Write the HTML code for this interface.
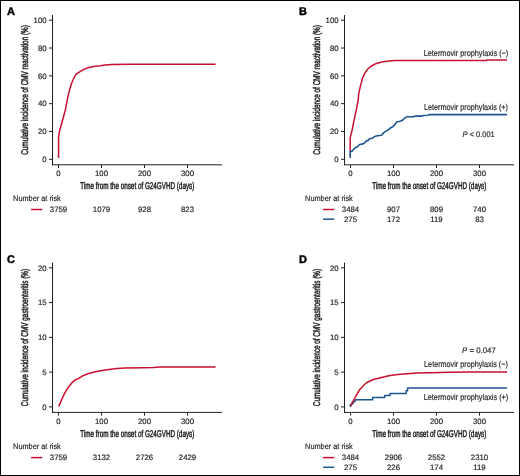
<!DOCTYPE html>
<html><head><meta charset="utf-8"><style>
html,body{margin:0;padding:0;background:#fff;width:520px;height:476px;overflow:hidden}
svg{display:block;will-change:transform}
text{text-rendering:geometricPrecision;font-family:"Liberation Sans",sans-serif;fill:#231f20;stroke:#231f20;stroke-width:0.18px}
.cd{stroke-width:0.5px}
.lt{stroke-width:0.45px;fill:#000;stroke:#000}
</style></head><body>
<svg width="520" height="476" viewBox="0 0 520 476">
<rect x="0.5" y="0.5" width="519" height="475" fill="#fff" stroke="#000" stroke-width="1"/>
<text x="6.90" y="14.95" font-size="11" text-anchor="start" font-weight="bold" class="lt">A</text>
<line x1="52.50" y1="15.00" x2="52.50" y2="165.20" stroke="#231f20" stroke-width="1"/>
<line x1="52.00" y1="164.80" x2="222.00" y2="164.80" stroke="#231f20" stroke-width="1"/>
<line x1="49.00" y1="159.30" x2="52.50" y2="159.30" stroke="#231f20" stroke-width="1"/>
<text x="46.60" y="162.10" font-size="7.8" text-anchor="end" font-weight="normal">0</text>
<line x1="49.00" y1="131.48" x2="52.50" y2="131.48" stroke="#231f20" stroke-width="1"/>
<text x="46.60" y="134.28" font-size="7.8" text-anchor="end" font-weight="normal">20</text>
<line x1="49.00" y1="103.66" x2="52.50" y2="103.66" stroke="#231f20" stroke-width="1"/>
<text x="46.60" y="106.46" font-size="7.8" text-anchor="end" font-weight="normal">40</text>
<line x1="49.00" y1="75.84" x2="52.50" y2="75.84" stroke="#231f20" stroke-width="1"/>
<text x="46.60" y="78.64" font-size="7.8" text-anchor="end" font-weight="normal">60</text>
<line x1="49.00" y1="48.02" x2="52.50" y2="48.02" stroke="#231f20" stroke-width="1"/>
<text x="46.60" y="50.82" font-size="7.8" text-anchor="end" font-weight="normal">80</text>
<line x1="49.00" y1="20.20" x2="52.50" y2="20.20" stroke="#231f20" stroke-width="1"/>
<text x="46.60" y="23.00" font-size="7.8" text-anchor="end" font-weight="normal">100</text>
<line x1="58.50" y1="165.00" x2="58.50" y2="168.00" stroke="#231f20" stroke-width="1"/>
<text x="58.50" y="176.40" font-size="7.8" text-anchor="middle" font-weight="normal">0</text>
<line x1="101.50" y1="165.00" x2="101.50" y2="168.00" stroke="#231f20" stroke-width="1"/>
<text x="101.50" y="176.40" font-size="7.8" text-anchor="middle" font-weight="normal">100</text>
<line x1="144.50" y1="165.00" x2="144.50" y2="168.00" stroke="#231f20" stroke-width="1"/>
<text x="144.50" y="176.40" font-size="7.8" text-anchor="middle" font-weight="normal">200</text>
<line x1="187.50" y1="165.00" x2="187.50" y2="168.00" stroke="#231f20" stroke-width="1"/>
<text x="187.50" y="176.40" font-size="7.8" text-anchor="middle" font-weight="normal">300</text>
<text transform="translate(28.00,89.95) rotate(-90)" x="0" y="0" font-size="9.8" class="cd" text-anchor="middle" textLength="129.7" lengthAdjust="spacingAndGlyphs">Cumulative incidence of CMV reactivation (%)</text>
<text x="137.30" y="188.75" font-size="9.8" text-anchor="middle" font-weight="normal" textLength="114" lengthAdjust="spacingAndGlyphs" class="cd">Time from the onset of G24GVHD (days)</text>
<text x="13.10" y="200.70" font-size="8" text-anchor="start" font-weight="normal" textLength="47.7" lengthAdjust="spacingAndGlyphs">Number at risk</text>
<line x1="31.10" y1="209.50" x2="42.30" y2="209.50" stroke="#c8102e" stroke-width="1.5"/>
<text x="58.50" y="212.30" font-size="7.8" text-anchor="middle" font-weight="normal">3759</text>
<text x="101.50" y="212.30" font-size="7.8" text-anchor="middle" font-weight="normal">1079</text>
<text x="144.50" y="212.30" font-size="7.8" text-anchor="middle" font-weight="normal">928</text>
<text x="187.50" y="212.30" font-size="7.8" text-anchor="middle" font-weight="normal">823</text>
<text x="298.90" y="14.50" font-size="11" text-anchor="start" font-weight="bold" class="lt">B</text>
<line x1="344.50" y1="15.00" x2="344.50" y2="165.20" stroke="#231f20" stroke-width="1"/>
<line x1="344.00" y1="164.80" x2="514.00" y2="164.80" stroke="#231f20" stroke-width="1"/>
<line x1="341.00" y1="159.30" x2="344.50" y2="159.30" stroke="#231f20" stroke-width="1"/>
<text x="338.60" y="162.10" font-size="7.8" text-anchor="end" font-weight="normal">0</text>
<line x1="341.00" y1="131.48" x2="344.50" y2="131.48" stroke="#231f20" stroke-width="1"/>
<text x="338.60" y="134.28" font-size="7.8" text-anchor="end" font-weight="normal">20</text>
<line x1="341.00" y1="103.66" x2="344.50" y2="103.66" stroke="#231f20" stroke-width="1"/>
<text x="338.60" y="106.46" font-size="7.8" text-anchor="end" font-weight="normal">40</text>
<line x1="341.00" y1="75.84" x2="344.50" y2="75.84" stroke="#231f20" stroke-width="1"/>
<text x="338.60" y="78.64" font-size="7.8" text-anchor="end" font-weight="normal">60</text>
<line x1="341.00" y1="48.02" x2="344.50" y2="48.02" stroke="#231f20" stroke-width="1"/>
<text x="338.60" y="50.82" font-size="7.8" text-anchor="end" font-weight="normal">80</text>
<line x1="341.00" y1="20.20" x2="344.50" y2="20.20" stroke="#231f20" stroke-width="1"/>
<text x="338.60" y="23.00" font-size="7.8" text-anchor="end" font-weight="normal">100</text>
<line x1="350.50" y1="165.00" x2="350.50" y2="168.00" stroke="#231f20" stroke-width="1"/>
<text x="350.50" y="176.40" font-size="7.8" text-anchor="middle" font-weight="normal">0</text>
<line x1="393.50" y1="165.00" x2="393.50" y2="168.00" stroke="#231f20" stroke-width="1"/>
<text x="393.50" y="176.40" font-size="7.8" text-anchor="middle" font-weight="normal">100</text>
<line x1="436.50" y1="165.00" x2="436.50" y2="168.00" stroke="#231f20" stroke-width="1"/>
<text x="436.50" y="176.40" font-size="7.8" text-anchor="middle" font-weight="normal">200</text>
<line x1="479.50" y1="165.00" x2="479.50" y2="168.00" stroke="#231f20" stroke-width="1"/>
<text x="479.50" y="176.40" font-size="7.8" text-anchor="middle" font-weight="normal">300</text>
<text transform="translate(320.00,89.95) rotate(-90)" x="0" y="0" font-size="9.8" class="cd" text-anchor="middle" textLength="129.7" lengthAdjust="spacingAndGlyphs">Cumulative incidence of CMV reactivation (%)</text>
<text x="429.30" y="188.75" font-size="9.8" text-anchor="middle" font-weight="normal" textLength="114" lengthAdjust="spacingAndGlyphs" class="cd">Time from the onset of G24GVHD (days)</text>
<text x="305.10" y="200.70" font-size="8" text-anchor="start" font-weight="normal" textLength="47.7" lengthAdjust="spacingAndGlyphs">Number at risk</text>
<line x1="323.10" y1="209.50" x2="334.30" y2="209.50" stroke="#c8102e" stroke-width="1.5"/>
<text x="350.50" y="212.30" font-size="7.8" text-anchor="middle" font-weight="normal">3484</text>
<text x="393.50" y="212.30" font-size="7.8" text-anchor="middle" font-weight="normal">907</text>
<text x="436.50" y="212.30" font-size="7.8" text-anchor="middle" font-weight="normal">809</text>
<text x="479.50" y="212.30" font-size="7.8" text-anchor="middle" font-weight="normal">740</text>
<line x1="323.10" y1="219.20" x2="334.30" y2="219.20" stroke="#1d5590" stroke-width="1.5"/>
<text x="350.50" y="222.10" font-size="7.8" text-anchor="middle" font-weight="normal">275</text>
<text x="393.50" y="222.10" font-size="7.8" text-anchor="middle" font-weight="normal">172</text>
<text x="436.50" y="222.10" font-size="7.8" text-anchor="middle" font-weight="normal">119</text>
<text x="479.50" y="222.10" font-size="7.8" text-anchor="middle" font-weight="normal">83</text>
<text x="6.90" y="262.80" font-size="11" text-anchor="start" font-weight="bold" class="lt">C</text>
<line x1="52.50" y1="262.60" x2="52.50" y2="412.80" stroke="#231f20" stroke-width="1"/>
<line x1="52.00" y1="412.40" x2="222.00" y2="412.40" stroke="#231f20" stroke-width="1"/>
<line x1="49.00" y1="406.90" x2="52.50" y2="406.90" stroke="#231f20" stroke-width="1"/>
<text x="46.60" y="409.70" font-size="7.8" text-anchor="end" font-weight="normal">0</text>
<line x1="49.00" y1="372.12" x2="52.50" y2="372.12" stroke="#231f20" stroke-width="1"/>
<text x="46.60" y="374.93" font-size="7.8" text-anchor="end" font-weight="normal">5</text>
<line x1="49.00" y1="337.35" x2="52.50" y2="337.35" stroke="#231f20" stroke-width="1"/>
<text x="46.60" y="340.15" font-size="7.8" text-anchor="end" font-weight="normal">10</text>
<line x1="49.00" y1="302.58" x2="52.50" y2="302.58" stroke="#231f20" stroke-width="1"/>
<text x="46.60" y="305.38" font-size="7.8" text-anchor="end" font-weight="normal">15</text>
<line x1="49.00" y1="267.80" x2="52.50" y2="267.80" stroke="#231f20" stroke-width="1"/>
<text x="46.60" y="270.60" font-size="7.8" text-anchor="end" font-weight="normal">20</text>
<line x1="58.50" y1="412.60" x2="58.50" y2="415.60" stroke="#231f20" stroke-width="1"/>
<text x="58.50" y="424.00" font-size="7.8" text-anchor="middle" font-weight="normal">0</text>
<line x1="101.50" y1="412.60" x2="101.50" y2="415.60" stroke="#231f20" stroke-width="1"/>
<text x="101.50" y="424.00" font-size="7.8" text-anchor="middle" font-weight="normal">100</text>
<line x1="144.50" y1="412.60" x2="144.50" y2="415.60" stroke="#231f20" stroke-width="1"/>
<text x="144.50" y="424.00" font-size="7.8" text-anchor="middle" font-weight="normal">200</text>
<line x1="187.50" y1="412.60" x2="187.50" y2="415.60" stroke="#231f20" stroke-width="1"/>
<text x="187.50" y="424.00" font-size="7.8" text-anchor="middle" font-weight="normal">300</text>
<text transform="translate(28.00,337.55) rotate(-90)" x="0" y="0" font-size="9.8" class="cd" text-anchor="middle" textLength="137.2" lengthAdjust="spacingAndGlyphs">Cumulative incidence of CMV gastroenteritis (%)</text>
<text x="137.30" y="437.35" font-size="9.8" text-anchor="middle" font-weight="normal" textLength="114" lengthAdjust="spacingAndGlyphs" class="cd">Time from the onset of G24GVHD (days)</text>
<text x="13.10" y="448.80" font-size="8" text-anchor="start" font-weight="normal" textLength="47.7" lengthAdjust="spacingAndGlyphs">Number at risk</text>
<line x1="31.10" y1="457.60" x2="42.30" y2="457.60" stroke="#c8102e" stroke-width="1.5"/>
<text x="58.50" y="460.40" font-size="7.8" text-anchor="middle" font-weight="normal">3759</text>
<text x="101.50" y="460.40" font-size="7.8" text-anchor="middle" font-weight="normal">3132</text>
<text x="144.50" y="460.40" font-size="7.8" text-anchor="middle" font-weight="normal">2726</text>
<text x="187.50" y="460.40" font-size="7.8" text-anchor="middle" font-weight="normal">2429</text>
<text x="298.90" y="262.70" font-size="11" text-anchor="start" font-weight="bold" class="lt">D</text>
<line x1="344.50" y1="262.60" x2="344.50" y2="412.80" stroke="#231f20" stroke-width="1"/>
<line x1="344.00" y1="412.40" x2="514.00" y2="412.40" stroke="#231f20" stroke-width="1"/>
<line x1="341.00" y1="406.90" x2="344.50" y2="406.90" stroke="#231f20" stroke-width="1"/>
<text x="338.60" y="409.70" font-size="7.8" text-anchor="end" font-weight="normal">0</text>
<line x1="341.00" y1="372.12" x2="344.50" y2="372.12" stroke="#231f20" stroke-width="1"/>
<text x="338.60" y="374.93" font-size="7.8" text-anchor="end" font-weight="normal">5</text>
<line x1="341.00" y1="337.35" x2="344.50" y2="337.35" stroke="#231f20" stroke-width="1"/>
<text x="338.60" y="340.15" font-size="7.8" text-anchor="end" font-weight="normal">10</text>
<line x1="341.00" y1="302.58" x2="344.50" y2="302.58" stroke="#231f20" stroke-width="1"/>
<text x="338.60" y="305.38" font-size="7.8" text-anchor="end" font-weight="normal">15</text>
<line x1="341.00" y1="267.80" x2="344.50" y2="267.80" stroke="#231f20" stroke-width="1"/>
<text x="338.60" y="270.60" font-size="7.8" text-anchor="end" font-weight="normal">20</text>
<line x1="350.50" y1="412.60" x2="350.50" y2="415.60" stroke="#231f20" stroke-width="1"/>
<text x="350.50" y="424.00" font-size="7.8" text-anchor="middle" font-weight="normal">0</text>
<line x1="393.50" y1="412.60" x2="393.50" y2="415.60" stroke="#231f20" stroke-width="1"/>
<text x="393.50" y="424.00" font-size="7.8" text-anchor="middle" font-weight="normal">100</text>
<line x1="436.50" y1="412.60" x2="436.50" y2="415.60" stroke="#231f20" stroke-width="1"/>
<text x="436.50" y="424.00" font-size="7.8" text-anchor="middle" font-weight="normal">200</text>
<line x1="479.50" y1="412.60" x2="479.50" y2="415.60" stroke="#231f20" stroke-width="1"/>
<text x="479.50" y="424.00" font-size="7.8" text-anchor="middle" font-weight="normal">300</text>
<text transform="translate(320.00,337.55) rotate(-90)" x="0" y="0" font-size="9.8" class="cd" text-anchor="middle" textLength="137.2" lengthAdjust="spacingAndGlyphs">Cumulative incidence of CMV gastroenteritis (%)</text>
<text x="429.30" y="437.35" font-size="9.8" text-anchor="middle" font-weight="normal" textLength="114" lengthAdjust="spacingAndGlyphs" class="cd">Time from the onset of G24GVHD (days)</text>
<text x="305.10" y="448.80" font-size="8" text-anchor="start" font-weight="normal" textLength="47.7" lengthAdjust="spacingAndGlyphs">Number at risk</text>
<line x1="323.10" y1="457.60" x2="334.30" y2="457.60" stroke="#c8102e" stroke-width="1.5"/>
<text x="350.50" y="460.40" font-size="7.8" text-anchor="middle" font-weight="normal">3484</text>
<text x="393.50" y="460.40" font-size="7.8" text-anchor="middle" font-weight="normal">2906</text>
<text x="436.50" y="460.40" font-size="7.8" text-anchor="middle" font-weight="normal">2552</text>
<text x="479.50" y="460.40" font-size="7.8" text-anchor="middle" font-weight="normal">2310</text>
<line x1="323.10" y1="467.30" x2="334.30" y2="467.30" stroke="#1d5590" stroke-width="1.5"/>
<text x="350.50" y="470.20" font-size="7.8" text-anchor="middle" font-weight="normal">275</text>
<text x="393.50" y="470.20" font-size="7.8" text-anchor="middle" font-weight="normal">226</text>
<text x="436.50" y="470.20" font-size="7.8" text-anchor="middle" font-weight="normal">174</text>
<text x="479.50" y="470.20" font-size="7.8" text-anchor="middle" font-weight="normal">119</text>
<polyline points="58.60,158.00 58.60,136.60 59.60,130.90 60.80,126.50 63.30,117.70 65.90,107.60 67.60,97.90 69.70,89.50 71.80,82.70 73.90,78.00 76.00,74.30 79.20,72.20 83.40,69.60 88.60,67.50 94.90,66.20 100.20,65.70 105.00,65.00 112.00,64.40 130.00,64.30 215.60,64.25" fill="none" stroke="#c8102e" stroke-width="1.5" stroke-linejoin="round" stroke-linecap="butt"/>
<polyline points="350.20,151.20 350.20,138.20 350.80,135.00 352.10,130.00 353.80,121.40 356.30,110.10 358.20,100.00 358.70,93.90 360.80,84.40 362.90,77.10 365.00,72.90 367.60,69.20 371.30,66.00 376.50,63.40 381.80,62.10 387.00,61.30 394.40,60.60 407.00,60.50 486.50,60.50 486.60,60.00 507.10,60.00" fill="none" stroke="#c8102e" stroke-width="1.5" stroke-linejoin="round" stroke-linecap="butt"/>
<polyline points="350.20,158.00 350.20,151.40 351.80,151.40 353.70,149.20 355.60,147.60 357.50,146.70 359.30,144.80 360.60,144.20 363.10,143.90 365.00,142.60 366.30,140.70 368.20,140.40 369.70,138.50 371.90,138.50 373.80,137.20 375.10,136.30 377.70,135.80 381.50,135.20 384.60,131.90 387.70,130.40 390.80,127.70 393.10,126.50 396.20,122.70 396.90,121.80 399.20,121.50 402.30,120.40 403.80,118.80 405.50,117.60 406.50,116.80 413.80,116.80 415.00,116.10 421.90,116.10 423.10,115.50 428.10,115.30 429.20,114.60 507.00,114.60" fill="none" stroke="#1d5590" stroke-width="1.6" stroke-linejoin="round" stroke-linecap="butt"/>
<polyline points="58.80,406.40 61.10,401.00 64.40,393.60 68.50,386.90 71.80,382.90 75.20,379.90 79.20,378.20 82.60,375.90 88.60,373.50 95.40,371.70 102.10,370.40 108.80,369.40 116.90,368.40 125.00,368.10 143.50,367.80 153.70,367.60 159.40,366.90 215.60,366.90" fill="none" stroke="#c8102e" stroke-width="1.5" stroke-linejoin="round" stroke-linecap="butt"/>
<polyline points="350.40,406.90 350.40,404.60 352.00,404.60 352.00,403.00 353.40,403.00 353.40,401.50 355.00,401.50 355.00,399.80 372.60,399.80 372.60,397.50 384.70,397.50 384.70,395.50 390.10,395.50 390.10,393.50 406.20,393.50 406.20,390.80 407.60,390.80 407.60,388.10 507.00,388.10" fill="none" stroke="#1d5590" stroke-width="1.5" stroke-linejoin="round" stroke-linecap="butt"/>
<polyline points="350.60,406.20 355.10,397.50 359.80,389.40 365.00,384.00 366.50,382.70 372.70,379.80 380.40,377.70 390.00,375.40 397.70,374.40 407.30,373.70 416.90,373.10 430.40,372.70 450.40,372.20 470.00,372.00 507.00,372.00" fill="none" stroke="#c8102e" stroke-width="1.5" stroke-linejoin="round" stroke-linecap="butt"/>
<text x="423.70" y="55.50" font-size="8.6" text-anchor="start" font-weight="normal" textLength="84.6" lengthAdjust="spacingAndGlyphs">Letermovir prophylaxis (−)</text>
<text x="424.00" y="109.60" font-size="8.6" text-anchor="start" font-weight="normal" textLength="84.0" lengthAdjust="spacingAndGlyphs">Letermovir prophylaxis (+)</text>
<text x="462.5" y="136.8" font-size="8" textLength="32.2" lengthAdjust="spacingAndGlyphs"><tspan font-style="italic">P</tspan> &lt; 0.001</text>
<text x="462.1" y="353.4" font-size="8" textLength="33.7" lengthAdjust="spacingAndGlyphs"><tspan font-style="italic">P</tspan> = 0.047</text>
<text x="424.10" y="367.30" font-size="8.6" text-anchor="start" font-weight="normal" textLength="83.8" lengthAdjust="spacingAndGlyphs">Letermovir prophylaxis (−)</text>
<text x="423.70" y="399.60" font-size="8.6" text-anchor="start" font-weight="normal" textLength="84.6" lengthAdjust="spacingAndGlyphs">Letermovir prophylaxis (+)</text>
</svg>
</body></html>
